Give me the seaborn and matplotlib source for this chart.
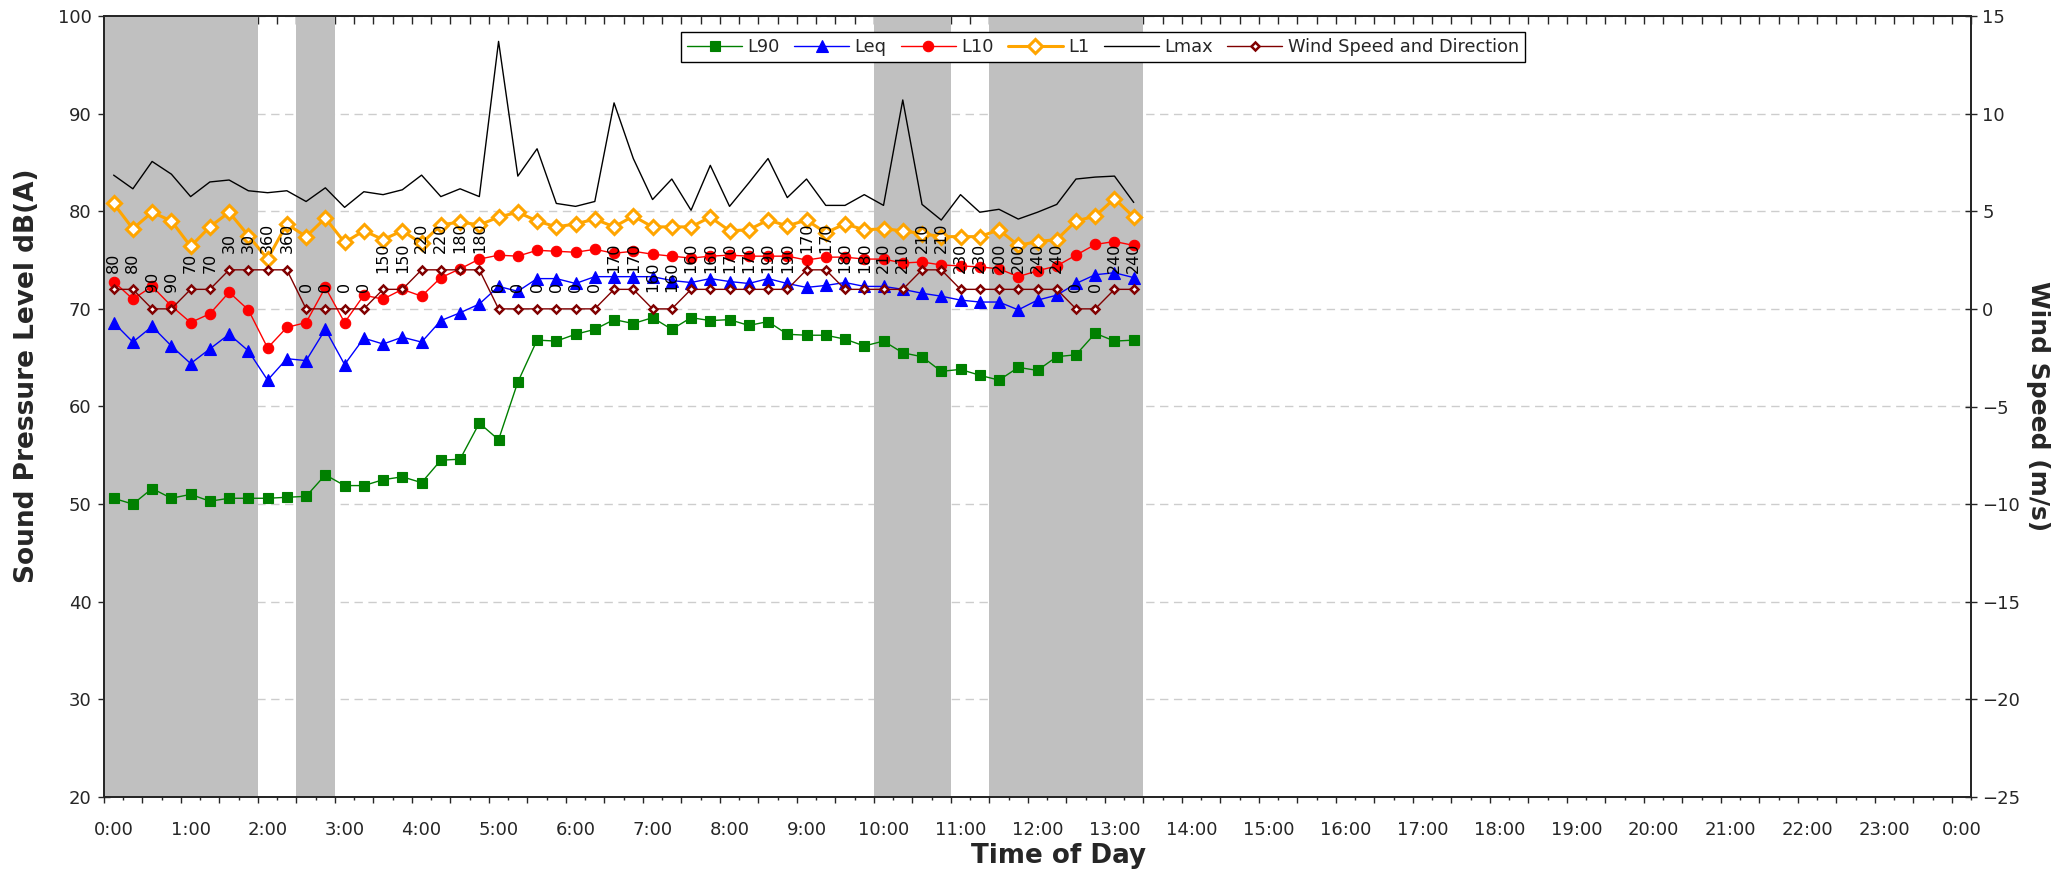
import numpy as np
import pandas as pd
import matplotlib
matplotlib.use("Agg")
import matplotlib.pyplot as plt
import seaborn as sns
from matplotlib.lines import Line2D

# ---------------- data ----------------
time_labels = [f"{h}:00" for h in range(24)] + ["0:00"]

L90 = [50.6, 50.0, 51.6, 50.6, 51.0, 50.3, 50.6, 50.6, 50.6, 50.7,
       50.8, 53.0, 51.9, 51.9, 52.5, 52.8, 52.2, 54.5, 54.6, 58.3,
       56.6, 62.5, 66.8, 66.7, 67.4, 67.9, 68.9, 68.5, 69.1, 67.9,
       69.1, 68.8, 68.9, 68.3, 68.7, 67.4, 67.3, 67.3, 66.9, 66.2,
       66.7, 65.5, 65.1, 63.6, 63.8, 63.2, 62.7, 64.0, 63.7, 65.1,
       65.3, 67.5, 66.7, 66.8]
Leq = [68.6, 66.6, 68.2, 66.2, 64.4, 65.9, 67.4, 65.7, 62.7, 64.9,
       64.7, 67.9, 64.3, 67.0, 66.4, 67.1, 66.6, 68.8, 69.6, 70.5,
       72.3, 71.8, 73.1, 73.1, 72.6, 73.3, 73.3, 73.3, 73.3, 72.9,
       72.7, 73.1, 72.8, 72.6, 73.1, 72.6, 72.2, 72.4, 72.7, 72.3,
       72.3, 72.0, 71.6, 71.3, 70.9, 70.7, 70.7, 69.9, 70.9, 71.4,
       72.6, 73.5, 73.7, 73.2]
L10 = [72.8, 71.0, 72.3, 70.3, 68.6, 69.5, 71.7, 69.9, 66.0, 68.1,
       68.6, 72.2, 68.6, 71.4, 71.0, 72.0, 71.3, 73.2, 74.1, 75.1,
       75.5, 75.4, 76.0, 75.9, 75.8, 76.1, 75.7, 75.9, 75.6, 75.4,
       75.2, 75.4, 75.5, 75.4, 75.4, 75.4, 75.0, 75.3, 75.3, 75.1,
       75.1, 74.7, 74.8, 74.5, 74.4, 74.3, 74.1, 73.3, 73.9, 74.4,
       75.5, 76.6, 76.9, 76.5]
L1 = [80.8, 78.2, 79.9, 79.0, 76.4, 78.4, 79.9, 77.5, 75.1, 78.7,
      77.4, 79.3, 76.8, 78.0, 77.1, 78.0, 76.7, 78.6, 78.9, 78.6,
      79.4, 79.9, 79.0, 78.4, 78.7, 79.2, 78.4, 79.5, 78.4, 78.4,
      78.4, 79.4, 78.0, 78.1, 79.1, 78.5, 79.1, 77.8, 78.7, 78.1,
      78.2, 78.0, 77.7, 77.4, 77.4, 77.4, 78.1, 76.5, 76.9, 77.1,
      79.0, 79.5, 81.3, 79.4]
Lmax = [83.7, 82.3, 85.1, 83.8, 81.5, 83.0, 83.2, 82.1, 81.9, 82.1,
        81.0, 82.4, 80.4, 82.0, 81.7, 82.2, 83.7, 81.5, 82.3, 81.5,
        97.4, 83.6, 86.4, 80.8, 80.5, 81.0, 91.1, 85.4, 81.2, 83.3,
        80.1, 84.7, 80.5, 82.9, 85.4, 81.4, 83.3, 80.6, 80.6, 81.7,
        80.6, 91.4, 80.7, 79.1, 81.7, 79.9, 80.2, 79.2, 79.9, 80.7,
        83.3, 83.5, 83.6, 80.9]
wind_speed = [1, 1, 0, 0, 1, 1, 2, 2, 2, 2,
              0, 0, 0, 0, 1, 1, 2, 2, 2, 2,
              0, 0, 0, 0, 0, 0, 1, 1, 0, 0,
              1, 1, 1, 1, 1, 1, 2, 2, 1, 1,
              1, 1, 2, 2, 1, 1, 1, 1, 1, 1,
              0, 0, 1, 1]
wind_dir = [80, 80, 90, 90, 70, 70, 30, 30, 360, 360,
            0, 0, 0, 0, 150, 150, 220, 220, 180, 180,
            0, 0, 0, 0, 0, 0, 170, 170, 160, 160,
            160, 160, 170, 170, 190, 190, 170, 170, 180, 180,
            210, 210, 210, 210, 230, 230, 200, 200, 240, 240,
            0, 0, 240, 240]
# shaded periods (first and last 15-min interval index, inclusive)
shade_start = [0, 10, 40, 46]
shade_end = [7, 11, 43, 53]

df = pd.DataFrame({"idx": np.arange(len(L90)), "L90": L90, "Leq": Leq,
                   "L10": L10, "L1": L1, "Lmax": Lmax,
                   "wind": wind_speed, "dir": wind_dir})

# ---------------- style ----------------
sns.set_style("ticks")
plt.rcParams["font.family"] = ["DejaVu Sans"]
spine_col = "#262626"

W, H = 2065, 872
fig = plt.figure(figsize=(W / 100, H / 100), dpi=100)
L, R, T, B = 104, 1971, 16, 797
ax = fig.add_axes([L / W, 1 - B / H, (R - L) / W, (B - T) / H])
ax2 = ax.twinx()

for s, e in zip(shade_start, shade_end):
    ax.axvspan(s - 0.5, e + 0.5, color="#C0C0C0", lw=0, zorder=1)

styles = {
    "L90": dict(color="#008000", marker="s", markersize=7.5, markerfacecolor="#008000",
                markeredgecolor="#008000", markeredgewidth=0.8, linewidth=1.0),
    "Leq": dict(color="#0000FF", marker="^", markersize=8, markerfacecolor="#0000FF",
                markeredgecolor="#0000FF", markeredgewidth=0.8, linewidth=1.0),
    "L10": dict(color="#FF0000", marker="o", markersize=7.5, markerfacecolor="#FF0000",
                markeredgecolor="#FF0000", markeredgewidth=0.8, linewidth=1.0),
    "L1": dict(color="#FFA500", marker="D", markersize=7, markerfacecolor="white",
               markeredgecolor="#FFA500", markeredgewidth=2.2, linewidth=2.2),
    "Lmax": dict(color="black", linewidth=1.0),
}
for col in ["L90", "Leq", "L10", "Lmax", "L1"]:
    sns.lineplot(data=df, x="idx", y=col, ax=ax, zorder=3, **styles[col])

wind_style = dict(color="#800000", marker="D", markersize=4.5, markerfacecolor="white",
                  markeredgecolor="#800000", markeredgewidth=1.8, linewidth=1.0)
sns.lineplot(data=df, x="idx", y="wind", ax=ax2, zorder=3, **wind_style)
for i, (s, d) in enumerate(zip(wind_speed, wind_dir)):
    ax2.annotate(str(d), (i, s), xytext=(0, 12), textcoords="offset points",
                 rotation=90, ha="center", va="bottom", fontsize=11.5, color="black")

# ---------------- axes ----------------
ax.set_xlim(-0.5, 96.5)
ax.set_ylim(20, 100)
ax2.set_ylim(-25, 15)

ax.set_xticks(np.arange(-0.5, 97, 2))
ax.set_xticks(np.arange(-0.5, 97, 1), minor=True)
ax.tick_params(axis="x", which="major", direction="out", length=4.5, width=1,
               color=spine_col, labelbottom=False)
ax.tick_params(axis="x", which="minor", direction="out", length=2.5, width=1,
               color=spine_col)

sec = ax.secondary_xaxis("bottom")
sec.set_xticks(np.arange(0, 97, 4), labels=time_labels)
sec.tick_params(length=0, pad=17, labelsize=13)
sec.spines["bottom"].set_visible(False)

top = ax.secondary_xaxis("top")
top.set_xticks(np.arange(-0.5, 97, 1))
top.tick_params(direction="in", length=6, width=1, color=spine_col, labeltop=False)
top.spines["top"].set_visible(False)

ax.set_xlabel("Time of Day", fontsize=18.8, fontweight="bold")
ax.xaxis.set_label_coords(0.511, -0.059)

ax.set_yticks(np.arange(20, 101, 10))
ax.set_yticks(np.arange(20, 101, 2), minor=True)
ax.tick_params(axis="y", which="major", direction="inout", length=8, width=1,
               color=spine_col, labelsize=13, pad=5)
ax.tick_params(axis="y", which="minor", direction="in", length=3.6, width=1,
               color=spine_col)
ax.set_ylabel("Sound Pressure Level dB(A)", fontsize=19, fontweight="bold")
ax.yaxis.set_label_coords(-0.0343, 0.54)

ax2.set_yticks(np.arange(-25, 16, 5))
ax2.tick_params(axis="y", direction="inout", length=8, width=1, color=spine_col,
                labelsize=13, pad=4)
ax2.set_ylabel("Wind Speed (m/s)", fontsize=18, fontweight="bold", rotation=270,
               va="bottom", labelpad=4.5)
ax2.set_xlabel("")

ax.yaxis.grid(True, which="major", linestyle=(0, (6, 4)), color="#CDCDCD", linewidth=1)
ax.set_axisbelow(True)
ax2.grid(False)

for a in (ax, ax2):
    for sp in a.spines.values():
        sp.set_color(spine_col)
        sp.set_linewidth(1.3)

handles = [Line2D([], [], **styles["L90"]), Line2D([], [], **styles["Leq"]),
           Line2D([], [], **styles["L10"]), Line2D([], [], **styles["L1"]),
           Line2D([], [], **styles["Lmax"]), Line2D([], [], **wind_style)]
names = ["L90", "Leq", "L10", "L1", "Lmax", "Wind Speed and Direction"]
leg = ax2.legend(handles, names, loc="upper center", bbox_to_anchor=(0.535, 0.98),
                 ncol=6, fontsize=12.8, frameon=True, fancybox=False, framealpha=1,
                 edgecolor="black", handlelength=3.1, handletextpad=0.3,
                 columnspacing=0.8, borderpad=0.35, borderaxespad=0)
leg.get_frame().set_linewidth(1.0)
leg.set_zorder(10)

fig.savefig("out.png", dpi=100)
